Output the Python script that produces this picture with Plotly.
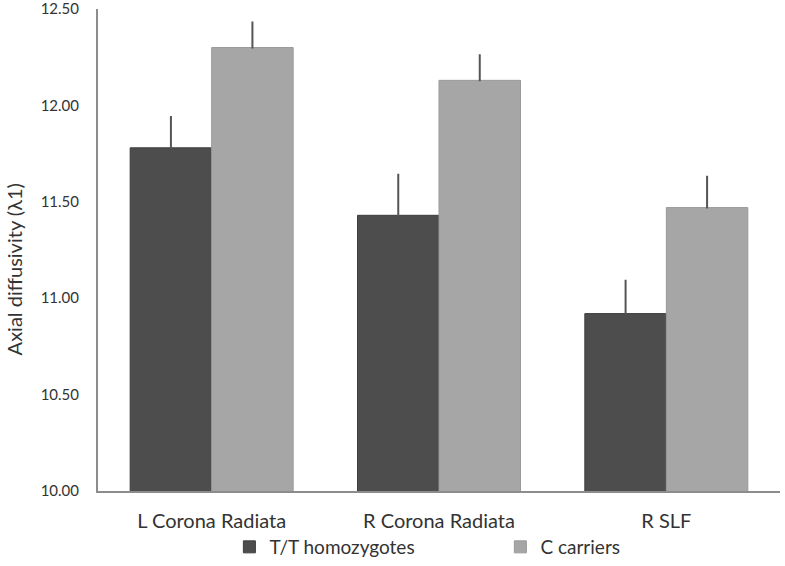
import plotly.graph_objects as go

categories = ["L Corona Radiata", "R Corona Radiata", "R SLF"]
tt_values = [11.78, 11.43, 10.92]
tt_errors = [0.16, 0.21, 0.17]
c_values = [12.30, 12.13, 11.47]
c_errors = [0.13, 0.13, 0.16]
y_ticks = [10.0, 10.5, 11.0, 11.5, 12.0, 12.5]
y_title = "Axial diffusivity (λ1)"

font_family = "Lato, 'Open Sans', sans-serif"

fig = go.Figure()
fig.add_trace(go.Bar(
    x=categories, y=tt_values, name="T/T homozygotes",
    marker=dict(color="#4d4d4d", line=dict(color="#3d3d3d", width=1)),
    error_y=dict(type="data", array=tt_errors, arrayminus=[0, 0, 0], symmetric=False,
                 color="#555555", thickness=2, width=1),
))
fig.add_trace(go.Bar(
    x=categories, y=c_values, name="C carriers",
    marker=dict(color="#a6a6a6", line=dict(color="#999999", width=1)),
    error_y=dict(type="data", array=c_errors, arrayminus=[0, 0, 0], symmetric=False,
                 color="#555555", thickness=2, width=1),
))

fig.add_annotation(text=y_title, xref="paper", yref="paper", x=-0.123, y=0.46,
                   xanchor="center", yanchor="middle", textangle=-90, showarrow=False,
                   font=dict(size=20, color="#333333"))

fig.update_layout(
    width=785, height=566,
    margin=dict(l=98, r=5, t=9, b=75, autoexpand=False),
    paper_bgcolor="white", plot_bgcolor="white",
    barmode="group", bargap=0.283, bargroupgap=0,
    font=dict(family=font_family, color="#333333"),
    showlegend=True,
    legend=dict(orientation="h", x=0.59, xanchor="center", y=0.0, yref="container",
                yanchor="bottom", bgcolor="rgba(0,0,0,0)",
                font=dict(size=19, color="#333333"),
                entrywidth=226, entrywidthmode="pixels", itemwidth=30),
    xaxis=dict(showline=True, linecolor="#8c8c8c", linewidth=2, ticks="",
               tickfont=dict(size=20, color="#333333"), showgrid=False,
               ticklabelstandoff=11),
    yaxis=dict(range=[10.0, 12.5], tickvals=y_ticks, tickformat=".2f",
               showline=True, linecolor="#8c8c8c", linewidth=2, ticks="",
               showgrid=False, zeroline=False, ticklabelstandoff=14,
               ticklabeloverflow="allow",
               tickfont=dict(size=15, color="#333333")),
)

fig.write_html("out.html", config={"displayModeBar": False},
               post_script="document.body.style.margin='0px';")
